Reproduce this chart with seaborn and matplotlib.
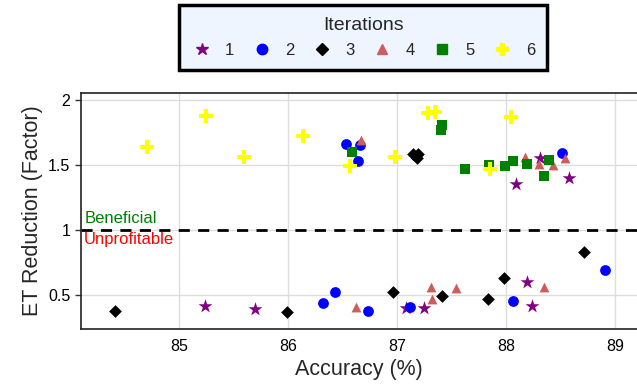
import matplotlib
matplotlib.use("Agg")
import matplotlib.pyplot as plt
import pandas as pd
import seaborn as sns
from matplotlib.lines import Line2D
from matplotlib.ticker import FuncFormatter

sns.set_theme(style="whitegrid", context="notebook")
plt.rcParams['font.family'] = ['Liberation Sans', 'DejaVu Sans']

# iteration 1 (stars)
it1_acc = [85.24, 85.70, 87.08, 87.25, 88.19, 88.24, 88.09, 88.31, 88.58]
it1_red = [0.415, 0.39, 0.40, 0.40, 0.60, 0.415, 1.35, 1.55, 1.40]
# iteration 2 (circles)
it2_acc = [86.53, 86.66, 86.64, 88.51, 86.32, 86.43, 86.73, 87.12, 88.06, 88.91]
it2_red = [1.66, 1.65, 1.53, 1.59, 0.44, 0.52, 0.375, 0.405, 0.45, 0.69]
# iteration 3 (diamonds)
it3_acc = [84.41, 85.99, 86.96, 87.41, 87.83, 87.98, 88.71, 87.15, 87.19, 87.18]
it3_red = [0.375, 0.365, 0.52, 0.49, 0.47, 0.63, 0.83, 1.585, 1.58, 1.555]
# iteration 4 (triangles)
it4_acc = [86.67, 88.17, 88.30, 88.43, 88.54, 86.62, 87.31, 87.32, 87.54, 88.35]
it4_red = [1.69, 1.56, 1.51, 1.50, 1.55, 0.41, 0.56, 0.47, 0.55, 0.56]
# iteration 5 (squares)
it5_acc = [86.59, 87.41, 87.40, 87.62, 87.84, 87.99, 88.06, 88.19, 88.35, 88.39]
it5_red = [1.60, 1.81, 1.77, 1.47, 1.50, 1.49, 1.53, 1.505, 1.415, 1.535]
# iteration 6 (plus)
it6_acc = [84.71, 85.25, 85.60, 86.14, 86.57, 86.98, 87.28, 87.35, 87.85, 88.04]
it6_red = [1.64, 1.88, 1.56, 1.72, 1.49, 1.56, 1.90, 1.91, 1.47, 1.87]

iterations = ['1', '2', '3', '4', '5', '6']
accs = [it1_acc, it2_acc, it3_acc, it4_acc, it5_acc, it6_acc]
reds = [it1_red, it2_red, it3_red, it4_red, it5_red, it6_red]

colors = ['purple', 'blue', 'black', '#cd5c5c', 'green', '#ffff00']
markers = ['*', 'o', 'D', '^', 's', 'P']
sizes = [110, 60, 42, 50, 55, 90]

df = pd.concat([
    pd.DataFrame({'acc': a, 'red': r, 'it': it})
    for a, r, it in zip(accs, reds, iterations)
])

fig = plt.figure(figsize=(6.37, 3.92), dpi=100)
ax = fig.add_axes([0.127, 0.161, 0.873, 0.602])

for it, c, m, s in zip(iterations, colors, markers, sizes):
    sns.scatterplot(data=df[df['it'] == it], x='acc', y='red', color=c,
                    marker=m, s=s, linewidth=0, ax=ax, zorder=3)

ax.axhline(1, color='black', ls=(0, (4, 3)), lw=2, zorder=2)
ax.text(84.13, 1.03, 'Beneficial', color='green', fontsize=12, va='bottom')
ax.text(84.13, 0.985, 'Unprofitable', color='red', fontsize=12, va='top')

ax.set_xlim(84.1, 89.2)
ax.set_ylim(0.238, 2.054)
ax.set_xticks([85, 86, 87, 88, 89])
ax.set_yticks([0.5, 1, 1.5, 2])
ax.yaxis.set_major_formatter(FuncFormatter(lambda v, p: f'{v:g}'))
ax.tick_params(axis='both', labelsize=11.5, colors='black')
ax.tick_params(axis='y', length=4, width=1, left=True, color='#333333')
ax.tick_params(axis='x', length=0, pad=7)
ax.grid(True, color='#dddddd', lw=1)
ax.set_xlabel('Accuracy (%)', fontsize=15.5)
ax.set_ylabel('ET Reduction (Factor)', fontsize=15.5)

for side in ['left', 'bottom', 'top']:
    ax.spines[side].set_color('#222222')
    ax.spines[side].set_linewidth(1.2)
ax.spines['right'].set_visible(False)

handles = [Line2D([], [], ls='', marker=m, color=c, markersize=ms)
           for c, m, ms in zip(colors, markers, [9, 7.5, 6.5, 7, 7, 9])]
leg = ax.legend(handles, iterations, title='Iterations', ncol=6,
                loc='lower center', bbox_to_anchor=(0.508, 1.097),
                fontsize=12, title_fontsize=14, frameon=True, fancybox=False,
                handletextpad=0.8, columnspacing=1.05, borderpad=0.75,
                handlelength=1.2, borderaxespad=0)
frame = leg.get_frame()
frame.set_facecolor('#eef5ff')
frame.set_edgecolor('black')
frame.set_linewidth(2.5)
frame.set_alpha(1)

fig.savefig('out.png', dpi=100)
